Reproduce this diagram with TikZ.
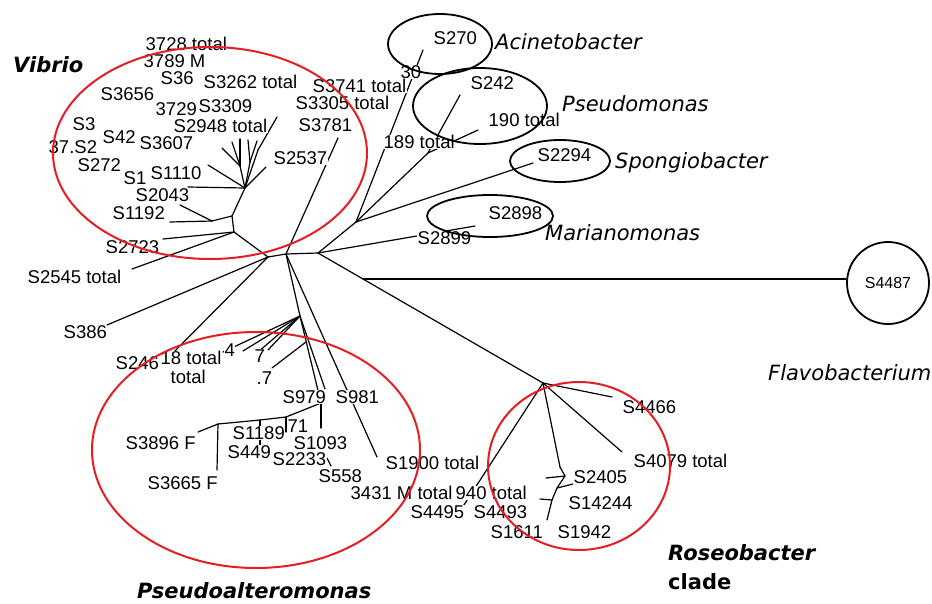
\documentclass[tikz,border=0pt]{standalone}
\usepackage{fontspec}
\setmainfont{Liberation Sans}
\newfontfamily\genusfont{DejaVu Sans}
\usetikzlibrary{shapes.geometric}
\definecolor{cred}{RGB}{228,30,36}
\begin{document}
\begin{tikzpicture}[x=1pt,y=-1pt,
  lbl/.style={font=\fontsize{18.5}{19}\selectfont, fill=white, inner sep=0.5pt, anchor=west},
  gen/.style={font=\genusfont\fontsize{21}{22}\selectfont\itshape, anchor=west, inner sep=0pt},
  genb/.style={font=\genusfont\fontsize{21}{22}\selectfont\bfseries\itshape, anchor=west, inner sep=0pt},
  genbu/.style={font=\genusfont\fontsize{21}{22}\selectfont\bfseries, anchor=west, inner sep=0pt},
  br/.style={line width=1.2pt, line cap=round, line join=round},
  redring/.style={ellipse, draw=cred, line width=2pt, inner sep=0pt},
  blkring/.style={ellipse, draw=black, line width=1.8pt, inner sep=0pt}]
\fill[white] (0,0) rectangle (932,603);
\useasboundingbox (0,0) rectangle (932,603);

% ---------- coordinates ----------
\coordinate (Ra) at (268,257);
\coordinate (Rb) at (286,254);
\coordinate (Rc) at (318,253);
% Vibrio
\coordinate (V1) at (234,232);
\coordinate (V2) at (232,216);
\coordinate (V2a) at (212,221);
\coordinate (V3) at (245,188);
\coordinate (Vf) at (240,166);
\coordinate (Vg) at (250,162);
\coordinate (Vh) at (258,150);
\coordinate (tS1192) at (170,222);
\coordinate (tS2043) at (180,205);
\coordinate (tS2723) at (163,239);
\coordinate (tS2545) at (132,269);
\coordinate (tS1110) at (188,187);
\coordinate (tS2537) at (266,167);
\coordinate (tF1) at (208,165);
\coordinate (tF2) at (222,148);
\coordinate (tF3) at (232,142);
\coordinate (tF4) at (240,139);
\coordinate (tF5) at (248,140);
\coordinate (tF6) at (257,141);
\coordinate (tF7) at (277,117);
\coordinate (tS3781) at (338,138);
% upper right
\coordinate (U1) at (356,222);
\coordinate (U3) at (428,153);
\coordinate (tS270) at (423,50);
\coordinate (tS242) at (460,95);
\coordinate (t190) at (478,130);
\coordinate (tS2294) at (533,163);
\coordinate (tS2898) at (475,226);
% Roseobacter / Flavobacterium
\coordinate (F1) at (363,279);
\coordinate (RN) at (543,383);
\coordinate (RS) at (560,467);
\coordinate (R1) at (565,476);
\coordinate (R2) at (557,488);
\coordinate (R3) at (552,500);
\coordinate (tS1611) at (547,520);
\coordinate (tR2) at (573,484);
\coordinate (tR1) at (546,478);
\coordinate (tR3) at (540,499);
\coordinate (tS4466) at (612,397);
\coordinate (tS4079) at (622,452);
\coordinate (tS4495) at (462,508);
% Pseudoalteromonas
\coordinate (P1) at (300,316);
\coordinate (Pb) at (306,342);
\coordinate (P2) at (321,403);
\coordinate (P3) at (286,417);
\coordinate (P4) at (260,420);
\coordinate (P5) at (218,424);
\coordinate (tP1) at (223,352);
\coordinate (tP2) at (243,351);
\coordinate (tP3) at (258,352);
\coordinate (tP4) at (268,350);
\coordinate (tP5) at (272,368);
\coordinate (tS979) at (325,389);
\coordinate (tS3896) at (198,432);
\coordinate (tS3665) at (217,470);
\coordinate (tS449) at (260,447);
\coordinate (tS1189) at (286,432);
\coordinate (tS1093) at (321,428);
\coordinate (tS558a) at (327,458);
\coordinate (tS558b) at (331,466);
\coordinate (tS1900) at (377,457);
\coordinate (tS386) at (107,325);
\coordinate (tS246) at (166,360);

% ---------- branches ----------
\draw[br] (Ra) -- (Rb) -- (Rc);
\draw[br] (Ra) -- (V1);
\draw[br] (V1) -- (V2);
\draw[br] (V1) -- (tS2723);
\draw[br] (V1) -- (tS2545);
\draw[br] (V2) -- (V2a);
\draw[br] (V2a) -- (tS1192);
\draw[br] (V2a) -- (tS2043);
\draw[br] (V2) -- (V3);
\draw[br] (V3) -- (tS1110);
\draw[br] (V3) -- (tS2537);
\draw[br] (V3) -- (tF1);
\draw[br] (V3) -- (Vf);
\draw[br] (Vf) -- (tF2);
\draw[br] (Vf) -- (tF3);
\draw[br] (Vf) -- (tF4);
\draw[br] (V3) -- (Vg);
\draw[br] (Vg) -- (tF5);
\draw[br] (Vg) -- (tF6);
\draw[br] (V3) -- (Vh);
\draw[br] (Vh) -- (tF7);
\draw[br] (Rb) -- (tS3781);
\draw[br] (Rc) -- (U1);
\draw[br] (U1) -- (tS270);
\draw[br] (U1) -- (U3);
\draw[br] (U3) -- (tS242);
\draw[br] (U3) -- (t190);
\draw[br] (U1) -- (tS2294);
\draw[br] (Rc) -- (tS2898);
\draw[br] (Rc) -- (F1) -- (RN);
\draw[br] (RN) -- (tS4466);
\draw[br] (RN) -- (tS4079);
\draw[br] (RN) -- (tS4495);
\draw[br] (RN) -- (RS);
\draw[br] (RS) -- (R1) -- (R2) -- (R3) -- (tS1611);
\draw[br] (R2) -- (tR2);
\draw[br] (R1) -- (tR1);
\draw[br] (R3) -- (tR3);
\draw[br] (Rb) -- (P1);
\draw[br] (P1) -- (tP1);
\draw[br] (P1) -- (tP2);
\draw[br] (P1) -- (tP3);
\draw[br] (P1) -- (tP4);
\draw[br] (P1) -- (P2);
\draw[br] (P1) -- (tS979);
\draw[br] (Pb) -- (tP5);
\draw[br] (P2) -- (P3) -- (P4) -- (P5);
\draw[br] (P5) -- (tS3896);
\draw[br] (P5) -- (tS3665);
\draw[br] (P4) -- (tS449);
\draw[br] (P3) -- (tS1189);
\draw[br] (P2) -- (tS1093);
\draw[br] (tS558a) -- (tS558b);
\draw[br] (Rb) -- (tS1900);
\draw[br] (Ra) -- (tS386);
\draw[br] (Ra) -- (tS246);

% ---------- leaf labels ----------
\node[lbl] (l3728) at (145,44) {3728 total};
\node[lbl] (l30) at (400,72) {30};
\node[lbl] (l3789) at (143,61) {3789 M};
\node[lbl] (l36) at (160,78) {S36};
\node[lbl] (l3741) at (312,86) {S3741 total};
\node[lbl] (l3262) at (203,82) {S3262 total};
\node[lbl] (l3656) at (100,94) {S3656};
\node[lbl] (l3309) at (198,106) {S3309};
\node[lbl] (l3729) at (155,109) {3729};
\node[lbl] (l3305) at (295,103) {S3305 total};
\node[lbl] (lS3) at (72,124) {S3};
\node[lbl] (l37) at (48,147) {37.S2};
\node[lbl] (lS42) at (102,137) {S42};
\node[lbl] (l3607) at (139,143) {S3607};
\node[lbl] (l2948) at (173,126) {S2948 total};
\node[lbl] (l3781) at (298,125) {S3781};
\node[lbl] (l272) at (77,165) {S272};
\node[lbl] (lS1) at (123,178) {S1};
\node[lbl] (l1110) at (150,173) {S1110};
\node[lbl] (l2537) at (273,158) {S2537};
\node[lbl] (l2043) at (135,195) {S2043};
\node[lbl] (l1192) at (112,213) {S1192};
\node[lbl] (l2723) at (105,247) {S2723};
\node[lbl] (l2545) at (27,277) {S2545 total};

\node[lbl] (l270) at (433,38) {S270};
\node[lbl] (l242) at (470,83) {S242};
\node[lbl] (l190) at (488,120) {190 total};
\node[lbl] (l189) at (383,142) {189 total};
\node[lbl] (l2294) at (537,155) {S2294};
\node[lbl] (l2898) at (488,213) {S2898};
\node[lbl] (l2899) at (417,238) {S2899};

\node[lbl] (l386) at (63,332) {S386};
\node[lbl] (l18) at (160,358) {18 total};
\node[lbl] (l246) at (115,363) {S246};
\node[lbl] (ltot) at (170,377) {total};
\node[lbl] (l4) at (224,350) {4};
\node[lbl] (l7a) at (254,356) {7};
\node[lbl] (l7b) at (256,378) {.7};
\node[lbl] (l979) at (282,397) {S979};
\node[lbl] (l981) at (335,397) {S981};
\node[lbl] (l3896) at (125,443) {S3896 F};
\node[lbl] (l3665) at (147,483) {S3665 F};
\node[lbl] (l71) at (287,426) {71};
\node[lbl] (l1189) at (232,433) {S1189};
\node[lbl] (l1093) at (293,443) {S1093};
\node[lbl] (l449) at (227,452) {S449};
\node[lbl] (l2233) at (272,459) {S2233};
\node[lbl] (l558) at (318,476) {S558};
\node[lbl] (l1900) at (385,463) {S1900 total};
\node[lbl] (l3431) at (350,493) {3431 M total};
\node[lbl] (l940) at (455,493) {940 total};

\node[lbl] (l4466) at (622,407) {S4466};
\node[lbl] (l4079) at (633,461) {S4079 total};
\node[lbl] (l2405) at (573,477) {S2405};
\node[lbl] (l14244) at (568,503) {S14244};
\node[lbl] (l4495) at (410,512) {S4495};
\node[lbl] (l4493) at (473,512) {S4493};
\node[lbl] (l1611) at (490,532) {S1611};
\node[lbl] (l1942) at (557,532) {S1942};

% ---------- clade rings ----------
\node[redring, minimum width=314, minimum height=212] (eVib) at (210,153) {};
\node[redring, minimum width=328, minimum height=236] (ePse) at (256,450) {};
\node[redring, minimum width=182, minimum height=168] (eRos) at (579,466) {};
\node[blkring, minimum width=104, minimum height=60] (eAci) at (440,44) {};
\node[blkring, minimum width=134, minimum height=76] (ePsm) at (480,106) {};
\node[blkring, minimum width=100, minimum height=42] (eSpo) at (560,161) {};
\node[blkring, minimum width=126, minimum height=42] (eMar) at (490,216) {};
\node[circle, draw, line width=1.8pt, minimum size=82, inner sep=0pt,
      font=\fontsize{16}{16}\selectfont] (eFla) at (888,283) {S4487};
\draw[br] (F1) -- (F1 -| eFla.west);

% ---------- genus labels ----------
\node[genb] (gVib) at (13,65) {Vibrio};
\node[gen] (gAci) at (495,42) {Acinetobacter};
\node[gen] (gPsm) at (562,104) {Pseudomonas};
\node[gen] (gSpo) at (615,163) {Spongiobacter};
\node[gen] (gMar) at (545,233) {Marianomonas};
\node[gen] (gFla) at (768,373) {Flavobacterium};
\node[genb] (gPse) at (137,591) {Pseudoalteromonas};
\node[genb] (gRos) at (668,553) {Roseobacter};
\node[genbu] (gCla) at (668,582) {clade};
\end{tikzpicture}
\end{document}
